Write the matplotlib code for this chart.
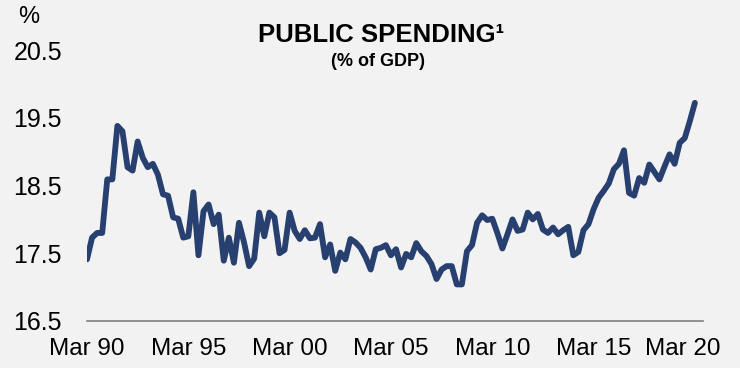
import matplotlib.pyplot as plt

# quarterly public spending, % of GDP, Mar 1990 - Mar 2020
spending = [
    17.41, 17.73, 17.80, 17.80, 18.59, 18.59, 19.38, 19.30, 18.77, 18.72,
    19.15, 18.91, 18.77, 18.82, 18.66, 18.37, 18.35, 18.03, 18.01, 17.73,
    17.75, 18.40, 17.47, 18.12, 18.22, 17.93, 18.07, 17.39, 17.73, 17.36,
    17.95, 17.66, 17.31, 17.42, 18.10, 17.75, 18.10, 18.03, 17.50, 17.55,
    18.10, 17.83, 17.71, 17.84, 17.72, 17.73, 17.93, 17.44, 17.63, 17.24,
    17.51, 17.41, 17.71, 17.66, 17.58, 17.44, 17.26, 17.56, 17.58, 17.62,
    17.47, 17.56, 17.29, 17.49, 17.44, 17.65, 17.53, 17.46, 17.34, 17.12,
    17.26, 17.31, 17.31, 17.04, 17.04, 17.53, 17.62, 17.95, 18.06, 17.99,
    18.01, 17.80, 17.57, 17.78, 18.00, 17.83, 17.85, 18.10, 18.00, 18.08,
    17.85, 17.80, 17.88, 17.78, 17.84, 17.89, 17.47, 17.52, 17.84, 17.93,
    18.15, 18.32, 18.42, 18.53, 18.74, 18.82, 19.02, 18.39, 18.35, 18.61,
    18.54, 18.81, 18.70, 18.59, 18.78, 18.96, 18.82, 19.13, 19.20, 19.45,
    19.72,
]
tick_labels = ['Mar 90', 'Mar 95', 'Mar 00', 'Mar 05', 'Mar 10', 'Mar 15', 'Mar 20']
y_ticks = [16.5, 17.5, 18.5, 19.5, 20.5]

bg = '#f2f2f2'
navy = '#27406f'
plt.rcParams['font.family'] = ['Liberation Sans', 'DejaVu Sans']

fig = plt.figure(figsize=(7.4, 3.68), dpi=100, facecolor=bg)
ax = fig.add_axes([87 / 740, 47 / 368, 616 / 740, 271 / 368], facecolor=bg)

ax.plot(range(len(spending)), spending, color=navy, lw=4.2,
        solid_joinstyle='round', solid_capstyle='round')

ax.set_xlim(0, 121.6)
ax.set_ylim(16.5, 20.5)
ax.set_yticks(y_ticks)
ax.set_yticklabels([f'{v:.1f}' for v in y_ticks])
ax.set_xticks([0, 20, 40, 60, 80, 100, 117.7])
ax.set_xticklabels(tick_labels)

for s in ['top', 'right', 'left']:
    ax.spines[s].set_visible(False)
ax.spines['bottom'].set_color('#808080')
ax.spines['bottom'].set_linewidth(1.2)
ax.tick_params(axis='both', length=0, labelsize=18, colors='black')
ax.tick_params(axis='y', pad=18)
ax.tick_params(axis='x', pad=12, labelsize=17.5)

fig.text(0.024, 0.955, '%', fontsize=17, ha='left', va='center')
fig.text(0.515, 0.905, 'PUBLIC SPENDING\u00b9', fontsize=18.5, fontweight='bold',
         ha='center', va='center')
fig.text(0.511, 0.832, '(% of GDP)', fontsize=13, fontweight='bold',
         ha='center', va='center')

fig.savefig('out.png', dpi=100, facecolor=bg)
